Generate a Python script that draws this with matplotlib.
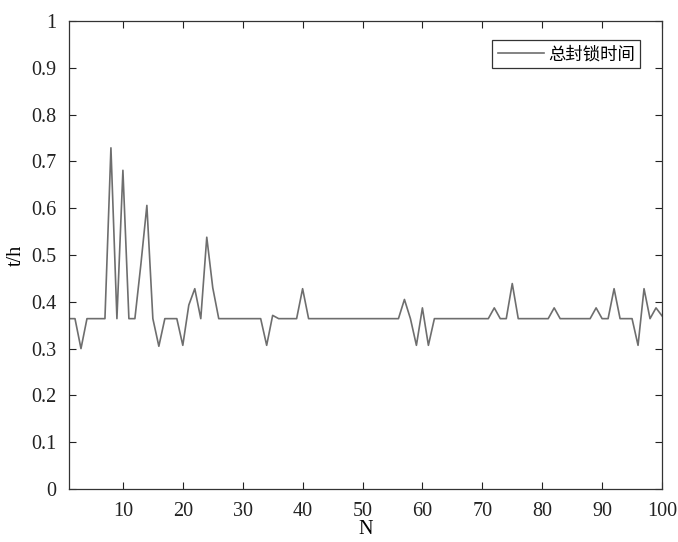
import matplotlib
matplotlib.use("Agg")
import matplotlib.pyplot as plt
import numpy as np

plt.rcParams['font.family'] = ['Liberation Serif', 'Noto Sans CJK SC']
plt.rcParams['mathtext.fontset'] = 'stix'

B = 0.364
N = list(range(1, 101))
t_h = [
    B, B, 0.300, B, B, B, B, 0.729, B, 0.681,          # 1-10
    B, B, 0.480, 0.606, B, 0.305, B, B, B, 0.307,      # 11-20
    0.393, 0.428, B, 0.538, 0.430, B, B, B, B, B,      # 21-30
    B, B, B, 0.307, 0.371, B, B, B, B, 0.428,          # 31-40
    B, B, B, B, B, B, B, B, B, B,                      # 41-50
    B, B, B, B, B, B, 0.405, B, 0.307, 0.387,          # 51-60
    0.307, B, B, B, B, B, B, B, B, B,                  # 61-70
    B, 0.387, B, B, 0.439, B, B, B, B, B,              # 71-80
    B, 0.387, B, B, B, B, B, B, 0.387, B,              # 81-90
    B, 0.428, B, B, B, 0.307, 0.428, B, 0.387, 0.370,  # 91-100
]
x_ticks = [10, 20, 30, 40, 50, 60, 70, 80, 90, 100]
y_ticks = [0, 0.1, 0.2, 0.3, 0.4, 0.5, 0.6, 0.7, 0.8, 0.9, 1]
y_tick_labels = ['0', '0.1', '0.2', '0.3', '0.4', '0.5', '0.6', '0.7', '0.8', '0.9', '1']

fig = plt.figure(figsize=(6.78, 5.42), dpi=100)
ax = fig.add_axes([69/678, 1-489/542, (662-69)/678, (489-21)/542])
ax.plot(N, t_h, color='#6e6e6e', lw=1.2, label='总封锁时间')
ax.set_xlim(1, 100)
ax.set_ylim(0, 1)
ax.set_xticks(x_ticks)
ax.set_yticks(y_ticks)
ax.set_yticklabels(y_tick_labels)
ax.tick_params(direction='in', length=5, width=0.8, labelsize=14.5, top=True, right=True,
               colors='#222222')
ax.tick_params(axis='y', pad=9)
ax.tick_params(axis='x', pad=9)
for s in ax.spines.values():
    s.set_color('#333333')
    s.set_linewidth(0.9)
ax.set_xlabel('N', fontsize=14.5, labelpad=0)
ax.set_ylabel('t/h', fontsize=14.5, labelpad=4)
leg = ax.legend(loc='upper right', bbox_to_anchor=((640-69)/593, (489-40)/468),
                borderaxespad=0, fancybox=False,
                edgecolor='#333333', framealpha=1, handlelength=2.7, handletextpad=0.2,
                borderpad=0.3, prop={'family': 'Noto Sans CJK SC', 'size': 12.5})
leg.get_frame().set_linewidth(0.9)
fig.savefig('out.png', dpi=100)
